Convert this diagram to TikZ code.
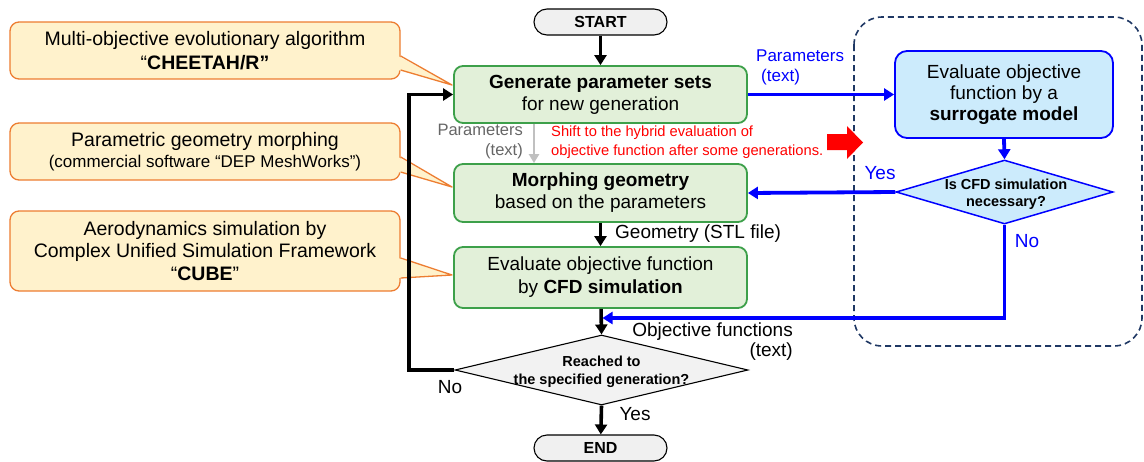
\documentclass[tikz,border=0pt]{standalone}
\usepackage{fontspec}
\setmainfont{Liberation Sans}
\usetikzlibrary{arrows.meta,shapes.geometric,calc}
\definecolor{gfill}{HTML}{E2F0D9}
\definecolor{gline}{HTML}{3DA04A}
\definecolor{ofill}{HTML}{FFF2CC}
\definecolor{oline}{HTML}{ED7D31}
\definecolor{bfill}{HTML}{CCEBFC}
\definecolor{bline}{HTML}{0000FF}
\definecolor{navy}{HTML}{1F3864}
\definecolor{dgray}{HTML}{F2F2F2}
\definecolor{sgray}{HTML}{F0F0F0}
\definecolor{tgray}{HTML}{666666}
\definecolor{lgray}{HTML}{C0C0C0}
\definecolor{ared}{HTML}{FF0000}
\newcommand\fsz[2]{\fontsize{#1}{#2}\selectfont}
\begin{document}
\begin{tikzpicture}[x=1pt,y=-1pt,
  mainbox/.style={draw=gline, fill=gfill, line width=1.8pt, rounded corners=9pt,
    minimum width=293pt, inner sep=0pt, align=center, font=\fsz{19}{22}},
  surbox/.style={draw=bline, fill=bfill, line width=1.8pt, rounded corners=12pt,
    minimum width=218pt, minimum height=87pt, inner sep=0pt, align=center, font=\fsz{19}{21}},
  term/.style={draw=black, fill=sgray, line width=1.1pt, rounded corners=13pt,
    minimum width=133pt, minimum height=26pt, inner sep=0pt, font=\fsz{16}{18}\bfseries},
  callout/.style={draw=oline, fill=ofill, line width=1.3pt, rounded corners=9pt,
    minimum width=390pt, inner sep=0pt, align=center},
  decgray/.style={diamond, draw=black, fill=dgray, line width=1.1pt, inner sep=0pt},
  decblue/.style={diamond, draw=bline, fill=bfill, line width=1.5pt, inner sep=0pt},
  blk/.style={line width=3.6pt, black, -{Triangle[length=10pt,width=12pt]}},
  blkline/.style={line width=3.6pt, black},
  blu/.style={line width=3.8pt, bline, -{Triangle[length=10pt,width=12pt]}},
  gry/.style={line width=2.6pt, lgray, -{Triangle[length=9pt,width=10pt]}},
  lab/.style={inner sep=0pt, font=\fsz{19}{20}},
]
\useasboundingbox (0,0) rectangle (1144,461);
\fill[white] (0,0) rectangle (1144,461);

% dashed group box
\draw[navy, line width=1.6pt, dash pattern=on 6pt off 4pt, rounded corners=28pt]
  (854,17) rectangle (1142,346);

% callouts
\node[callout, minimum height=57pt, font=\fsz{19.5}{24}] (c1) at (205,50.5)
  {Multi-objective evolutionary algorithm\\“\textbf{CHEETAH/R”}};
\node[callout, minimum height=57pt, font=\fsz{19.5}{21}] (c2) at (205,151.5)
  {Parametric geometry morphing\\{\fsz{17}{21}(commercial software “DEP MeshWorks”)}};
\node[callout, minimum height=80pt, font=\fsz{19.5}{22.5}] (c3) at (205,251)
  {Aerodynamics simulation by\\Complex Unified Simulation Framework\\“\textbf{CUBE}”};
\coordinate (t1) at (452,85);
\coordinate (t2) at (452,187);
\coordinate (t3) at (452,275);
\fill[ofill] (398,56) -- (t1) -- (398,70) -- cycle;
\draw[oline, line width=1.3pt, line join=round] (c1.east |- 0,56) -- (t1) -- (c1.east |- 0,70);
\fill[ofill] (398,157) -- (t2) -- (398,172) -- cycle;
\draw[oline, line width=1.3pt, line join=round] (c2.east |- 0,157) -- (t2) -- (c2.east |- 0,172);
\fill[ofill] (398,258) -- (t3) -- (398,278) -- cycle;
\draw[oline, line width=1.3pt, line join=round] (c3.east |- 0,258) -- (t3) -- (c3.east |- 0,278);

% main flow
\node[term] (start) at (600.5,22) {START};
\node[mainbox, minimum height=57pt] (gen) at (600.5,94.5)
  {\textbf{Generate parameter sets}\\for new generation};
\node[mainbox, minimum height=58pt] (morph) at (600.5,193)
  {\textbf{Morphing geometry}\\based on the parameters};
\node[mainbox, minimum height=61pt, font=\fsz{19}{23}] (cfd) at (600.5,277.5)
  {Evaluate objective function\\by \textbf{CFD simulation}};
\node[decgray, minimum width=293pt, minimum height=70pt] (dec) at (601.5,370) {};
\node[inner sep=0pt, align=center, font=\fsz{14.5}{18}\bfseries] (dectext) at (601.5,372)
  {Reached to\\the specified generation?};
\node[term] (end) at (600.5,448) {END};

% surrogate branch
\node[surbox] (sur) at (1004,94.5)
  {Evaluate objective\\function by a\\\textbf{surrogate model}};
\node[decblue, minimum width=217pt, minimum height=64pt] (cfdq) at (1004.5,192) {};
\node[inner sep=0pt, align=center, font=\fsz{14.5}{17.5}\bfseries] (cfdqtext) at (1006,194)
  {Is CFD simulation\\necessary?};

% connectors
\draw[blk] (start) -- (gen);
\coordinate (px) at (534,0);
\draw[gry] (gen.south -| px) -- (morph.north -| px);
\draw[blk] (morph) -- (cfd);
\draw[blk] (cfd) -- (dec.north);
\draw[blk] (dec.south) -- (end);
\coordinate (lx) at (409,0);
\draw[blkline, -{Triangle[length=10pt,width=12pt]}, line join=miter]
  (dec.west) -- (dec.west -| lx) |- (gen.west);
\draw[blu] (gen.east) -- (sur.west);
\draw[blu] (sur.south) -- (cfdq.north);
\draw[blu] (cfdq.west) -- (morph.east);
\coordinate (join) at (602.5,318);
\draw[blu, line join=miter] (cfdq.south) |- (join);

% red block arrow
\fill[ared] (827,134) -- (847,134) -- (847,126) -- (863,142.5) -- (847,159)
  -- (847,150) -- (827,150) -- cycle;

% labels
\node[inner sep=0pt, align=right, anchor=north east, text=tgray, font=\fsz{16.5}{20}] (lp1) at (523,124)
  {Parameters\\(text)};
\node[inner sep=0pt, align=left, anchor=north west, text=ared, font=\fsz{14.7}{18.5}] (lred) at (551,126)
  {Shift to the hybrid evaluation of\\objective function after some generations.};
\node[inner sep=0pt, align=left, anchor=north west, text=bline, font=\fsz{17}{20}] (lp2) at (756,50)
  {Parameters\\\hspace{5pt}(text)};
\node[lab, anchor=west] (lgeo) at (615,234) {Geometry (STL file)};
\node[lab, align=right, anchor=north east] (lobj) at (793,323)
  {Objective functions\\(text)};
\node[lab, text=bline] (lyes2) at (880,173) {Yes};
\node[lab, text=bline] (lno2) at (1027,241) {No};
\node[lab] (lno1) at (450,387) {No};
\node[lab] (lyes1) at (635,414) {Yes};
\end{tikzpicture}
\end{document}
